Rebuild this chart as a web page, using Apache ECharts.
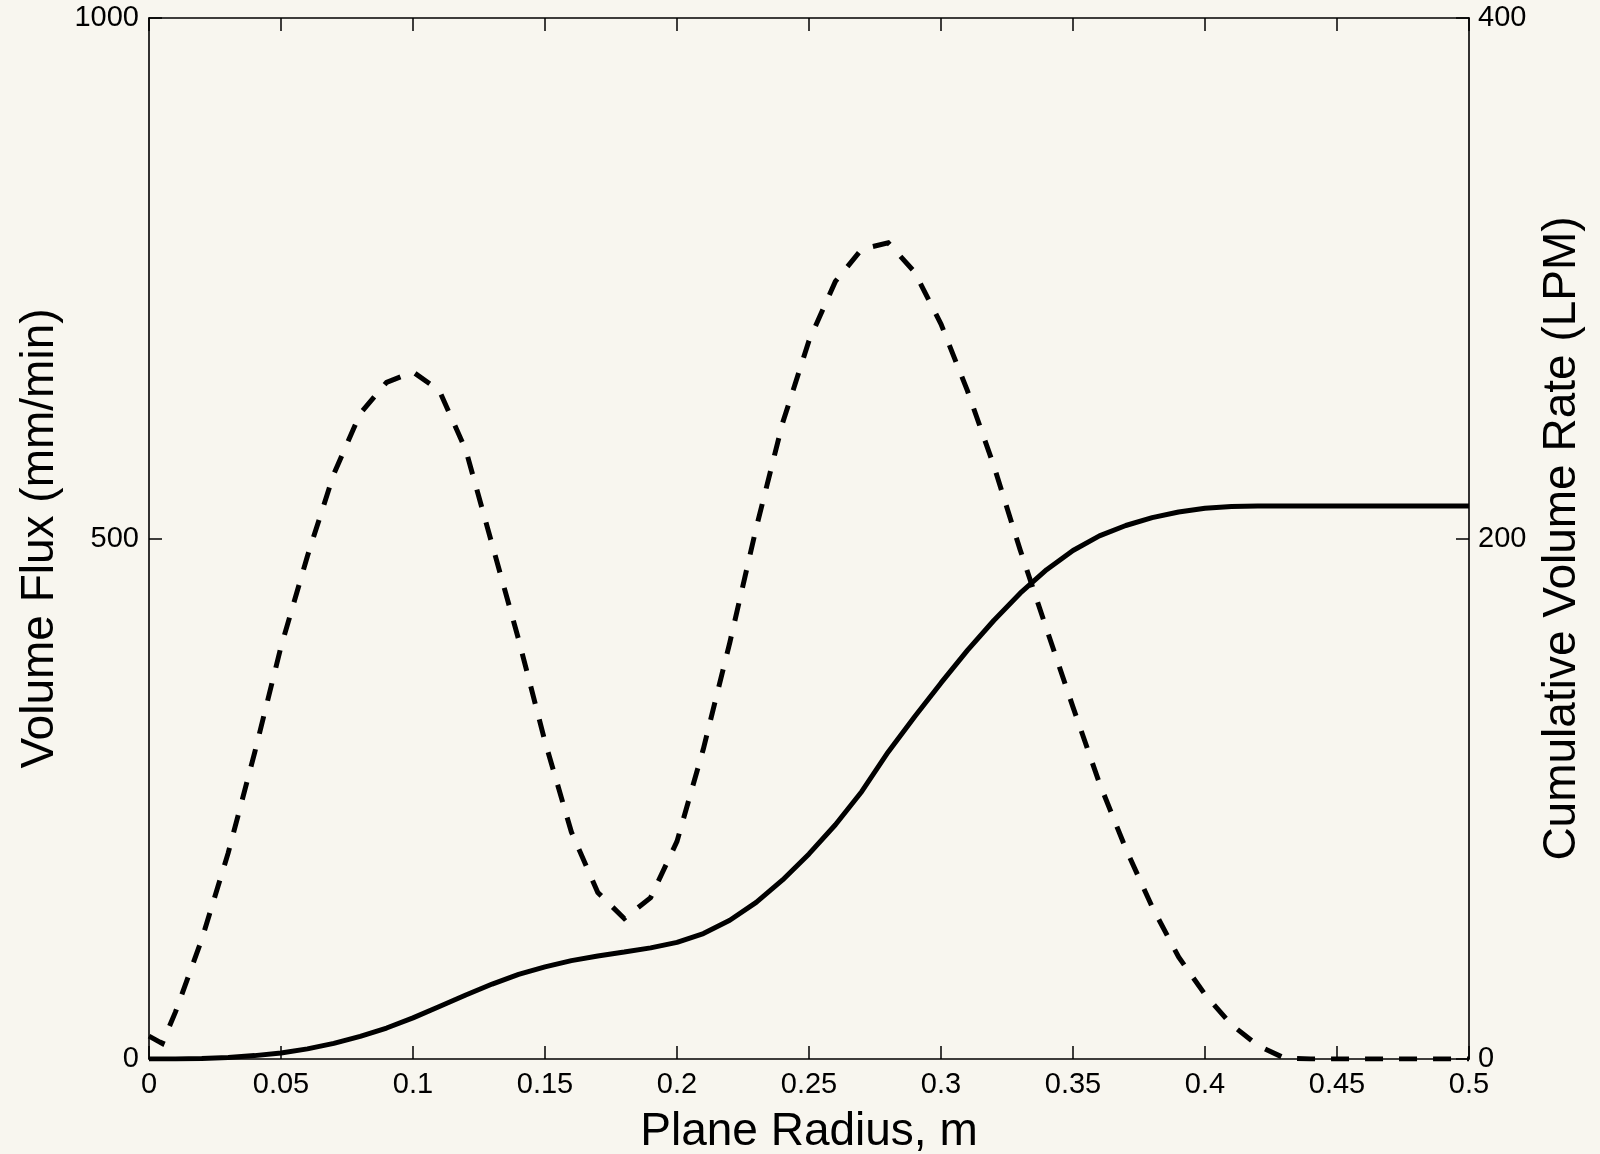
<!DOCTYPE html>
<html>
<head>
<meta charset="utf-8">
<title>Volume Flux and Cumulative Volume Rate</title>
<script src="https://cdn.jsdelivr.net/npm/echarts@6/dist/echarts.min.js"></script>
<style>
  html, body { margin: 0; padding: 0; background: #f8f6ef; }
  #chart { width: 1600px; height: 1154px; }
</style>
</head>
<body>
<div id="chart"></div>
<script>
// Radial positions on the plane (m)
const radius = [0, 0.01, 0.02, 0.03, 0.04, 0.05, 0.06, 0.07, 0.08, 0.09,
  0.10, 0.11, 0.12, 0.13, 0.14, 0.15, 0.16, 0.17, 0.18, 0.19,
  0.20, 0.21, 0.22, 0.23, 0.24, 0.25, 0.26, 0.27, 0.28, 0.29,
  0.30, 0.31, 0.32, 0.33, 0.34, 0.35, 0.36, 0.37, 0.38, 0.39,
  0.40, 0.41, 0.42, 0.43, 0.44, 0.45, 0.46, 0.47, 0.48, 0.49, 0.50];

// Flux samples (an extra sample near the centre)
const fluxRadius = [0, 0.005].concat(radius.slice(1));
const volumeFlux = [22, 15, 45, 115, 198, 294, 396, 483, 562, 620, 650,
  660, 642, 585, 494, 403, 305, 218, 160, 135, 155,
  209, 298, 400, 510, 611, 690, 747, 778, 784, 756,
  706, 642, 570, 489, 413, 338, 265, 202, 146, 98,
  62, 33, 13, 1, 0, 0, 0, 0, 0, 0, 0];

// Cumulative volume rate (LPM)
const cumulativeRate = [0, 0.0, 0.2, 0.6, 1.3, 2.3, 3.9, 6.0, 8.7, 11.9,
  15.8, 20.2, 24.6, 28.8, 32.5, 35.4, 37.8, 39.6, 41.1, 42.7,
  44.8, 48.2, 53.3, 60.2, 68.8, 78.8, 90.0, 102.8, 118.0, 131.5,
  144.5, 157.0, 168.5, 179.0, 188.0, 195.4, 201.0, 205.0, 208.0, 210.2,
  211.6, 212.3, 212.5, 212.5, 212.5, 212.5, 212.5, 212.5, 212.5, 212.5, 212.5];

const FONT = '"Liberation Sans", Arial, Helvetica, sans-serif';
const INK = '#000000';

const chart = echarts.init(document.getElementById('chart'), null, { renderer: 'canvas' });

const tickStyle = { show: true, inside: true, length: 13, lineStyle: { color: INK, width: 1.5 } };
const lineAxis = { show: true, onZero: false, lineStyle: { color: INK, width: 1.6 } };
const labelStyle = { color: INK, fontFamily: FONT, fontSize: 29 };
const nameStyle = { color: INK, fontFamily: FONT, fontSize: 46 };
const plain = v => String(parseFloat(v.toFixed(2)));

chart.setOption({
  animation: false,
  backgroundColor: '#f8f6ef',
  grid: { left: 149, right: 131, top: 18, bottom: 95, containLabel: false, outerBoundsMode: 'none' },
  xAxis: [
    {
      type: 'value', position: 'bottom', min: 0, max: 0.5, interval: 0.05,
      name: 'Plane Radius, m', nameLocation: 'middle', nameGap: 50,
      nameTextStyle: nameStyle,
      axisLine: lineAxis, axisTick: tickStyle,
      axisLabel: Object.assign({ margin: 11, formatter: plain }, labelStyle),
      splitLine: { show: false }
    },
    {
      type: 'value', position: 'top', min: 0, max: 0.5, interval: 0.05,
      axisLine: lineAxis, axisTick: tickStyle,
      axisLabel: { show: false }, splitLine: { show: false }
    }
  ],
  yAxis: [
    {
      type: 'value', position: 'left', min: 0, max: 1000, interval: 500,
      name: 'Volume Flux (mm/min)', nameLocation: 'middle', nameGap: 86,
      nameTextStyle: nameStyle,
      axisLine: lineAxis, axisTick: tickStyle,
      axisLabel: Object.assign({ margin: 10, formatter: plain }, labelStyle),
      splitLine: { show: false }
    },
    {
      type: 'value', position: 'right', min: 0, max: 400, interval: 200,
      name: 'Cumulative Volume Rate (LPM)', nameLocation: 'middle', nameGap: 70,
      nameTextStyle: nameStyle,
      axisLine: lineAxis, axisTick: tickStyle,
      axisLabel: Object.assign({ margin: 9, formatter: plain }, labelStyle),
      splitLine: { show: false }
    }
  ],
  series: [
    {
      name: 'Volume Flux', type: 'line', xAxisIndex: 0, yAxisIndex: 0,
      data: fluxRadius.map((r, i) => [r, volumeFlux[i]]),
      showSymbol: false, symbol: 'none', smooth: false,
      lineStyle: { color: INK, width: 5, type: [18, 16], cap: 'butt', join: 'miter' }
    },
    {
      name: 'Cumulative Volume Rate', type: 'line', xAxisIndex: 0, yAxisIndex: 1,
      data: radius.map((r, i) => [r, cumulativeRate[i]]),
      showSymbol: false, symbol: 'none', smooth: false,
      lineStyle: { color: INK, width: 5, type: 'solid' }
    }
  ]
});
</script>
</body>
</html>
